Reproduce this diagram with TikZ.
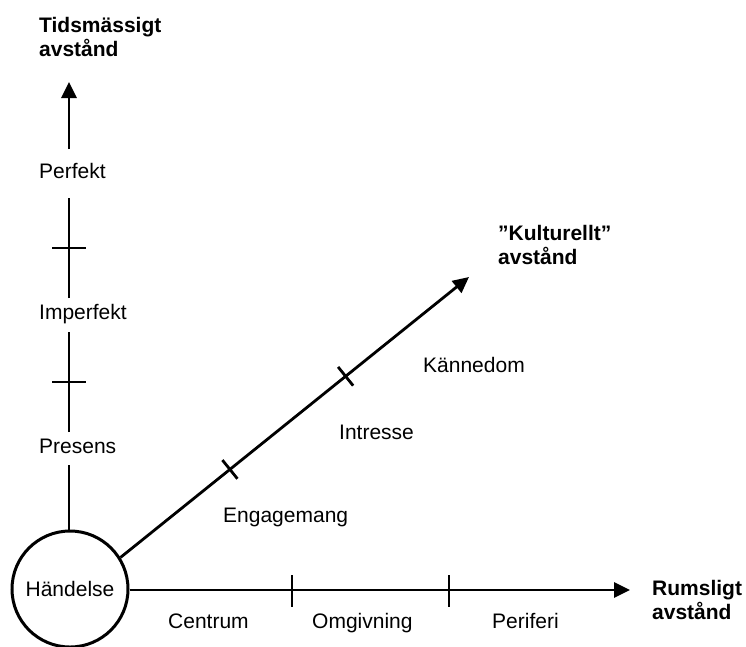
\documentclass[tikz,border=0pt]{standalone}
\usepackage{fontspec}
\setmainfont{Liberation Sans}
\usetikzlibrary{arrows.meta,calc}

\begin{document}
\begin{tikzpicture}[x=1pt,y=-1pt,
  axis/.style={line width=2.8pt},
  arr/.style={axis,-{Triangle[length=16pt,width=15pt]}},
  tick/.style={line width=2.8pt},
  lbl/.style={inner sep=0pt,anchor=base west,font=\fontsize{21}{24}\selectfont},
  head/.style={inner sep=0pt,anchor=north west,align=left,font=\fontsize{21}{24}\selectfont\bfseries},
  event/.style={circle,draw,line width=3pt,minimum size=116pt,inner sep=0pt,font=\fontsize{21}{24}\selectfont}]
\useasboundingbox (0,0) rectangle (746,646);

% the event at the origin
\node[event] (ev) at (70,589) {Händelse};

% --- time axis (vertical) ---
\node[lbl] (pres) at (39,453) {Presens};
\node[lbl] (impf) at (39,319) {Imperfekt};
\node[lbl] (perf) at (39,178) {Perfekt};
\node[head] (tid) at (39,17) {Tidsmässigt\\avstånd};

\coordinate (v1) at (69,465);
\coordinate (v2) at (69,432);
\coordinate (v3) at (69,332);
\coordinate (v4) at (69,298);
\coordinate (v5) at (69,198);
\coordinate (v6) at (69,149);
\coordinate (vtip) at (69,82);

\draw[axis] (69,531) -- (v1);
\draw[axis] (v2) -- (v3);
\draw[axis] (v4) -- (v5);
\draw[arr] (v6) -- (vtip);
\draw[tick] (52,382) -- (86,382);
\draw[tick] (52,248) -- (86,248);

% --- spatial axis (horizontal) ---
\coordinate (htip) at (630,590);
\draw[arr] (ev.east |- htip) -- (htip);
\draw[tick] (292,575) -- (292,607);
\draw[tick] (449,575) -- (449,607);
\node[lbl] (cen) at (168,628) {Centrum};
\node[lbl] (omg) at (312,628) {Omgivning};
\node[lbl] (per) at (492,628) {Periferi};
\node[head] (rum) at (652,580) {Rumsligt\\avstånd};

% --- cultural axis (diagonal) ---
\coordinate (dtip) at (469,277);
\coordinate (d0) at (ev.32);
\draw[arr] (d0) -- (dtip);
\foreach \t in {0.314,0.646}{
  \coordinate (p) at ($(d0)!\t!(dtip)$);
  \draw[tick] ($(p)!12pt!90:(dtip)$) -- ($(p)!12pt!-90:(dtip)$);
}
\node[lbl] (eng) at (223,522) {Engagemang};
\node[lbl] (int) at (339,439) {Intresse};
\node[lbl] (kan) at (423,372) {Kännedom};
\node[head] (kul) at (498,225) {”Kulturellt”\\avstånd};
\end{tikzpicture}
\end{document}
